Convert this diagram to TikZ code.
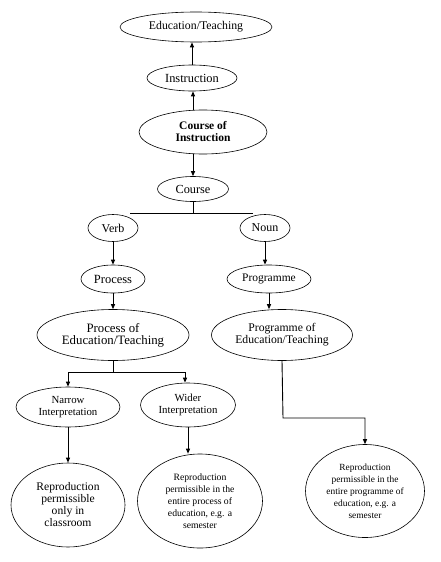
\documentclass[tikz,border=0pt]{standalone}
\usepackage{fontspec}
\setmainfont{Liberation Serif}
\usetikzlibrary{shapes.geometric,arrows.meta}
\tikzset{
  ell/.style={draw, ellipse, line width=0.6pt, inner sep=0pt, align=center, text=black},
  conn/.style={line width=0.9pt},
  arr/.style={conn, -{Triangle[length=5pt,width=4pt]}},
}
\newcommand{\fs}[2]{\fontsize{#1}{#2}\selectfont}
\begin{document}
\begin{tikzpicture}[x=1pt,y=-1pt]
\useasboundingbox (0,0) rectangle (441,562);
% nodes
\node[ell, minimum width=152pt, minimum height=30pt] (edu) at (196,27) {\fs{11.8}{14}Education/Teaching};
\node[ell, minimum width=90pt, minimum height=26pt] (instr) at (192,78) {\fs{12.4}{14}Instruction};
\node[ell, minimum width=128pt, minimum height=44pt] (coi) at (203,132) {\fs{11.5}{12.5}\bfseries Course of\\ \fs{11.5}{12.5}\bfseries Instruction};
\node[ell, minimum width=71pt, minimum height=25pt] (course) at (193,189) {\fs{12.3}{14}Course};
\node[ell, minimum width=50pt, minimum height=27pt] (verb) at (113,228) {\fs{12}{14}Verb};
\node[ell, minimum width=50pt, minimum height=27pt] (noun) at (265,228) {\fs{12}{14}Noun};
\node[ell, minimum width=64pt, minimum height=28pt] (process) at (113,279) {\fs{12.5}{14}Process};
\node[ell, minimum width=84pt, minimum height=28pt] (prog) at (269,279) {\fs{11.5}{14}Programme};
\node[ell, minimum width=152pt, minimum height=51pt] (poe) at (113,335) {\fs{12.8}{14}Process of\\ \fs{12.8}{14}Education/Teaching};
\node[ell, minimum width=141pt, minimum height=51pt] (pge) at (282,335) {\fs{11.7}{12}Programme of\\ \fs{11.7}{12}Education/Teaching};
\node[ell, minimum width=104pt, minimum height=40pt] (narrow) at (68,407) {\fs{10.8}{12.5}Narrow\\ \fs{10.8}{12.5}Interpretation};
\node[ell, minimum width=95pt, minimum height=44pt] (wider) at (188,405) {\fs{10.8}{12.5}Wider\\ \fs{10.8}{12.5}Interpretation};
\node[ell, minimum width=114pt, minimum height=84pt] (r1) at (68,505) {\fs{11.6}{13}Reproduction\\ \fs{11.6}{13}permissible\\ \fs{11.6}{13}only in\\ \fs{11.6}{13}classroom};
\node[ell, minimum width=125pt, minimum height=94pt] (r2) at (200,501) {\fs{9.7}{11.7}Reproduction\\ \fs{9.7}{11.7}permissible in the\\ \fs{9.7}{11.7}entire process of\\ \fs{9.7}{11.7}education, e.g. a\\ \fs{9.7}{11.7}semester};
\node[ell, minimum width=119pt, minimum height=93pt] (r3) at (365,491) {\fs{9.4}{11.7}Reproduction\\ \fs{9.4}{11.7}permissible in the\\ \fs{9.4}{11.7}entire programme of\\ \fs{9.4}{11.7}education, e.g. a\\ \fs{9.4}{11.7}semester};
% coordinates
\coordinate (bar) at (193,213);
\coordinate (barL) at (130,213);
\coordinate (barR) at (253,213);
\coordinate (split) at (113,372);
\coordinate (turn) at (283,418);
% connectors
\draw[arr] (instr.north) -- (instr.north |- edu.south);
\draw[arr] (course.north |- coi.north) -- (course.north |- instr.south);
\draw[arr] (course.north |- coi.south) -- (course.north);
\draw[conn] (course.south) -- (bar);
\draw[conn] (barL) -- (barR);
\draw[arr] (verb.south) -- (process.north);
\draw[arr] (noun.south) -- (noun.south |- prog.north);
\draw[arr] (process.south) -- (poe.north);
\draw[arr] (prog.south) -- (prog.south |- pge.north);
\draw[conn] (poe.south) -- (split);
\draw[arr] (split) -| (narrow.north);
\draw[arr] (split) -| ([xshift=-3pt]wider.north);
\draw[arr] (narrow.south) -- (r1.north);
\draw[arr] (wider.south) -- (wider.south |- r2.north);
\draw[arr] (pge.south) -- (turn) -| (r3.north);
\end{tikzpicture}
\end{document}
